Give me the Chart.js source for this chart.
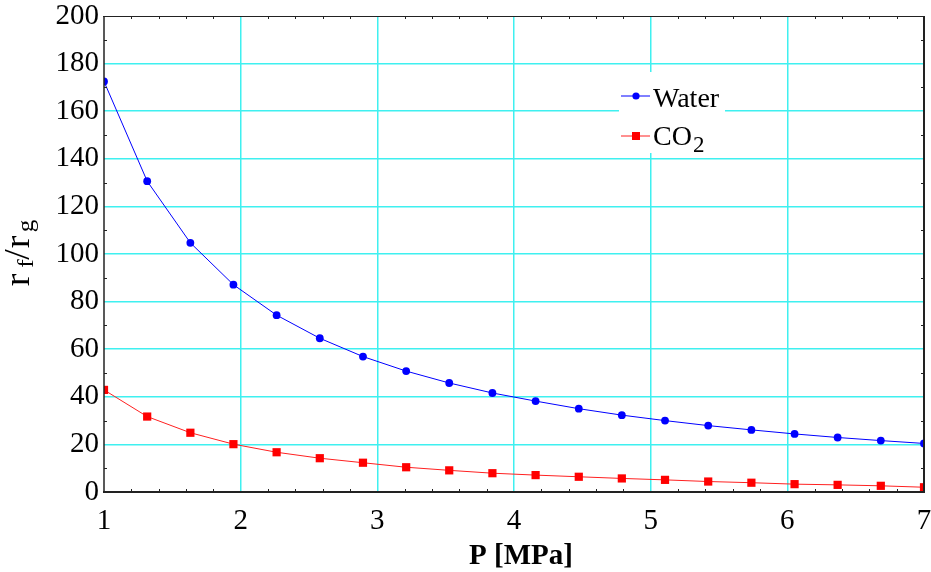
<!DOCTYPE html>
<html>
<head>
<meta charset="utf-8">
<script src="https://cdn.jsdelivr.net/npm/chart.js@4"></script>
<style>
  html, body { margin: 0; padding: 0; background: #ffffff; }
  canvas { display: block; }
</style>
</head>
<body>
<canvas id="chart" width="931" height="572"></canvas>
<script>
// Pressure P [MPa] at which the density ratio was evaluated
const pressure = [1.000, 1.316, 1.632, 1.947, 2.263, 2.579, 2.895, 3.211, 3.526, 3.842,
                  4.158, 4.474, 4.789, 5.105, 5.421, 5.737, 6.053, 6.368, 6.684, 7.000];
// Liquid/vapour density ratio r_f/r_g
const waterRatio = [172.5, 130.6, 104.7, 87.1, 74.3, 64.6, 56.9, 50.8, 45.8, 41.6,
                    38.2, 35.0, 32.3, 30.0, 27.9, 26.1, 24.4, 22.9, 21.6, 20.4];
const co2Ratio = [42.9, 31.7, 24.9, 20.1, 16.7, 14.2, 12.3, 10.4, 9.1, 7.9,
                  7.1, 6.4, 5.7, 5.1, 4.4, 3.9, 3.3, 3.0, 2.6, 2.0];
// Axis ticks
const xTicks = [1, 2, 3, 4, 5, 6, 7];
const yTicks = [0, 20, 40, 60, 80, 100, 120, 140, 160, 180, 200];
const xMinorTicks = [1.2, 1.4, 1.6, 1.8, 2.2, 2.4, 2.6, 2.8, 3.2, 3.4, 3.6, 3.8, 4.2, 4.4, 4.6, 4.8,
                     5.2, 5.4, 5.6, 5.8, 6.2, 6.4, 6.6, 6.8];
const yMinorTicks = [10, 30, 50, 70, 90, 110, 130, 150, 170, 190];

const SERIF = "'Liberation Serif', 'Times New Roman', serif";
const GRID = '#3ff0f0';
const FRAME = '#222222';

const toPoints = (ys) => pressure.map((p, i) => ({ x: p, y: ys[i] }));

// Box around the plot with small inward minor ticks on all four sides
const framePlugin = {
  id: 'frame',
  afterDatasetsDraw(chart) {
    const { ctx, chartArea: a, scales } = chart;
    const xs = scales.x, ys = scales.y;
    ctx.save();
    ctx.strokeStyle = FRAME;
    ctx.lineWidth = 1;
    ctx.beginPath();
    xMinorTicks.forEach(v => {
      const px = Math.round(xs.getPixelForValue(v)) + 0.5;
      ctx.moveTo(px, a.bottom); ctx.lineTo(px, a.bottom - 3);
      ctx.moveTo(px, a.top); ctx.lineTo(px, a.top + 3);
    });
    yMinorTicks.forEach(v => {
      const py = Math.round(ys.getPixelForValue(v)) + 0.5;
      ctx.moveTo(a.left, py); ctx.lineTo(a.left + 3, py);
      ctx.moveTo(a.right, py); ctx.lineTo(a.right - 3, py);
    });
    ctx.stroke();

    const side = (w, x1, y1, x2, y2) => {
      ctx.lineWidth = w;
      ctx.beginPath(); ctx.moveTo(x1, y1); ctx.lineTo(x2, y2); ctx.stroke();
    };
    side(1, a.left - 1, a.top + 0.5, a.right + 1, a.top + 0.5);
    side(2, a.right, a.top, a.right, a.bottom + 1);
    side(2, a.left - 1, a.bottom, a.right + 1, a.bottom);
    side(1.5, a.left, a.top, a.left, a.bottom + 1);
    ctx.restore();
  }
};

// Legend box inside the plot (CO2 needs a subscript)
const legendPlugin = {
  id: 'innerLegend',
  afterDraw(chart) {
    const { ctx } = chart;
    const ds = chart.data.datasets;
    ctx.save();
    ctx.fillStyle = '#ffffff';
    ctx.fillRect(619, 72, 106, 81);

    const entry = (d, y, draw) => {
      ctx.strokeStyle = d.borderColor;
      ctx.lineWidth = 1;
      ctx.beginPath(); ctx.moveTo(621, y); ctx.lineTo(650, y); ctx.stroke();
      ctx.fillStyle = d.backgroundColor;
      if (d.pointStyle === 'rect') {
        ctx.fillRect(632, y - 4, 8, 8);
      } else {
        ctx.beginPath(); ctx.arc(636, y, 3.6, 0, Math.PI * 2); ctx.fill();
      }
      ctx.fillStyle = '#000000';
      ctx.textBaseline = 'alphabetic';
      ctx.textAlign = 'left';
      draw();
    };
    entry(ds[0], 96, () => {
      ctx.font = `28px ${SERIF}`;
      ctx.fillText('Water', 653, 106.5);
    });
    entry(ds[1], 136, () => {
      ctx.font = `28px ${SERIF}`;
      ctx.fillText('CO', 653, 145);
      const w = ctx.measureText('CO').width;
      ctx.font = `23px ${SERIF}`;
      ctx.fillText('2', 653 + w + 1, 151.5);
    });
    ctx.restore();
  }
};

// Axis titles: rotated r_f/r_g with subscripts, bold P [MPa]
const titlesPlugin = {
  id: 'axisTitles',
  afterDraw(chart) {
    const { ctx, chartArea: a } = chart;
    ctx.save();
    ctx.fillStyle = '#000000';
    ctx.textBaseline = 'alphabetic';
    ctx.textAlign = 'center';
    ctx.font = `bold 29px ${SERIF}`;
    ctx.fillText('P [MPa]', (a.left + a.right) / 2 + 7, 564);

    // r_f / r_g, reading upwards; each glyph placed at its centre along the text
    const sx = 1.05;
    ctx.translate(29, 291);
    ctx.rotate(-Math.PI / 2);
    ctx.scale(sx, 1);
    const parts = [
      { t: 'r', size: 36, c: 11, dy: 0 },
      { t: 'f', size: 24, c: 27.5, dy: 4 },
      { t: '/', size: 36, c: 36.5, dy: 0 },
      { t: 'r', size: 36, c: 49, dy: 0 },
      { t: 'g', size: 24, c: 65, dy: 4 }
    ];
    parts.forEach(p => {
      ctx.font = `${p.size}px ${SERIF}`;
      ctx.fillText(p.t, p.c / sx, p.dy);
    });
    ctx.restore();
  }
};

new Chart(document.getElementById('chart'), {
  type: 'line',
  data: {
    datasets: [
      {
        label: 'Water',
        data: toPoints(waterRatio),
        borderColor: '#0000ff',
        backgroundColor: '#0000ff',
        borderWidth: 1,
        pointStyle: 'circle',
        pointRadius: 3.9,
        pointBorderWidth: 0,
        tension: 0
      },
      {
        label: 'CO2',
        data: toPoints(co2Ratio),
        borderColor: '#ff2020',
        backgroundColor: '#ff0000',
        borderWidth: 1,
        pointStyle: 'rect',
        pointRadius: 5.8,
        pointBorderWidth: 0,
        tension: 0
      }
    ]
  },
  options: {
    responsive: false,
    animation: false,
    events: [],
    layout: { autoPadding: false, padding: { left: 0, right: 7, top: 16, bottom: 0 } },
    plugins: { legend: { display: false }, tooltip: { enabled: false } },
    scales: {
      x: {
        type: 'linear',
        min: 1, max: 7,
        afterBuildTicks: (s) => { s.ticks = xTicks.map(v => ({ value: v })); },
        afterFit: (s) => { s.height = 80; s.paddingLeft = 0; s.paddingRight = 0; },
        border: { display: false },
        grid: {
          drawTicks: false,
          lineWidth: 1.5,
          color: (c) => (c.tick && (c.tick.value === 1 || c.tick.value === 7)) ? 'rgba(0,0,0,0)' : GRID
        },
        ticks: {
          maxRotation: 0,
          autoSkip: false,
          padding: 12,
          color: '#000000',
          font: { family: SERIF, size: 29, lineHeight: 1.2 }
        }
      },
      y: {
        type: 'linear',
        min: 0, max: 200,
        afterBuildTicks: (s) => { s.ticks = yTicks.map(v => ({ value: v })); },
        afterFit: (s) => { s.width = 104; s.paddingTop = 0; s.paddingBottom = 0; },
        border: { display: false },
        grid: {
          drawTicks: false,
          lineWidth: 1.5,
          color: (c) => (c.tick && (c.tick.value === 0 || c.tick.value === 200)) ? 'rgba(0,0,0,0)' : GRID
        },
        ticks: {
          autoSkip: false,
          padding: 5,
          color: '#000000',
          font: { family: SERIF, size: 29, lineHeight: 1.2 }
        }
      }
    }
  },
  plugins: [framePlugin, legendPlugin, titlesPlugin]
});
</script>
</body>
</html>
